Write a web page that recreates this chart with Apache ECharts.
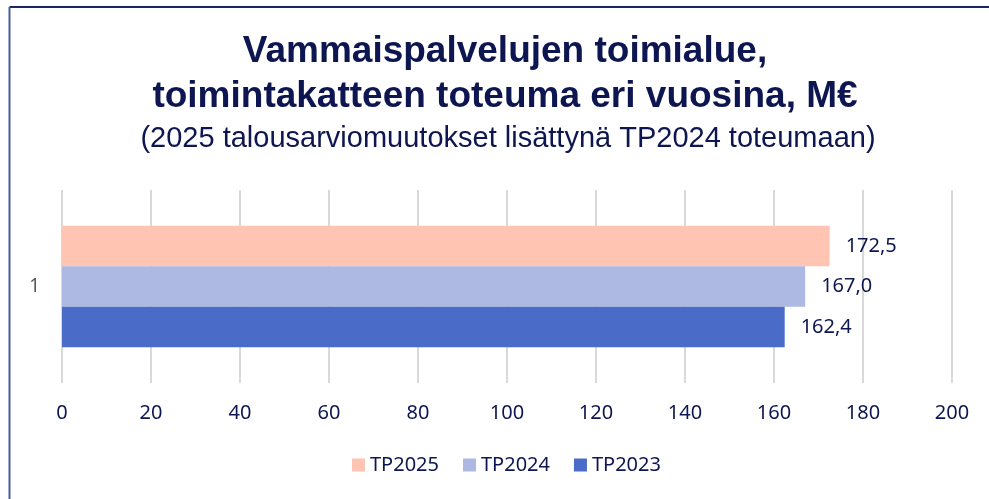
<!DOCTYPE html>
<html><head><meta charset="utf-8">
<script src="https://cdn.jsdelivr.net/npm/echarts@6/dist/echarts.min.js"></script>
<style>html,body{margin:0;padding:0;background:#fff}#c{width:989px;height:499px}</style>
</head><body><div id="c"></div>
<script>
const categories = ['1'];
const seriesNames = ['TP2025', 'TP2024', 'TP2023'];
const TP2023 = [162.4];
const TP2024 = [167.0];
const TP2025 = [172.5];
const xTicks = [0, 20, 40, 60, 80, 100, 120, 140, 160, 180, 200];
const colors = {TP2023: '#4A6BC8', TP2024: '#ADB9E3', TP2025: '#FFC4B2'};
const values = {TP2023, TP2024, TP2025};
const navy = '#0D1650';

const chart = echarts.init(document.getElementById('c'));
chart.setOption({
  animation: false,
  title: [{
    text: 'Vammaispalvelujen toimialue,\ntoimintakatteen toteuma eri vuosina, M€',
    left: 505, textAlign: 'center', top: 29, padding: 0,
    textStyle: {fontFamily: 'Liberation Sans', fontWeight: 'bold', fontSize: 37, lineHeight: 45, color: navy}
  }, {
    text: '(2025 talousarviomuutokset lisättynä TP2024 toteumaan)',
    left: 508, textAlign: 'center', top: 124, padding: 0,
    textStyle: {fontFamily: 'Liberation Sans', fontWeight: 'normal', fontSize: 29, lineHeight: 30, color: navy}
  }],
  graphic: [
    {type: 'line', shape: {x1: 9.5, y1: 7, x2: 989, y2: 7}, style: {stroke: '#1B2563', lineWidth: 2}},
    {type: 'line', shape: {x1: 9.5, y1: 7, x2: 9.5, y2: 499}, style: {stroke: '#4A5A9C', lineWidth: 2}}
  ],
  legend: {
    data: ['TP2025', 'TP2024', 'TP2023'],
    top: 455, left: 352, padding: 0,
    itemWidth: 13, itemHeight: 13, itemGap: 24,
    icon: 'rect',
    textStyle: {fontFamily: 'Noto Sans', fontSize: 20, color: navy}
  },
  grid: {left: 62, right: 37, top: 190, bottom: 116, containLabel: false},
  xAxis: {
    type: 'value', min: 0, max: 200, interval: 20,
    axisLine: {show: false}, axisTick: {show: false},
    splitLine: {lineStyle: {color: '#D9D9D9', width: 2}},
    axisLabel: {fontFamily: 'Noto Sans', fontSize: 20, color: navy, margin: 20}
  },
  yAxis: {
    type: 'category', data: categories,
    axisLine: {show: false}, axisTick: {show: false},
    axisLabel: {fontFamily: 'Noto Sans', fontSize: 19, color: '#595959', margin: 22}
  },
  series: seriesNames.map(n => ({
    name: n, type: 'bar', data: values[n],
    barGap: '0%', barCategoryGap: '37%',
    itemStyle: {color: colors[n]},
    label: {show: true, position: 'right', distance: 16, fontFamily: 'Noto Sans', fontSize: 20, color: navy,
      formatter: p => p.value.toFixed(1).replace('.', ',')}
  }))
});
</script></body></html>
